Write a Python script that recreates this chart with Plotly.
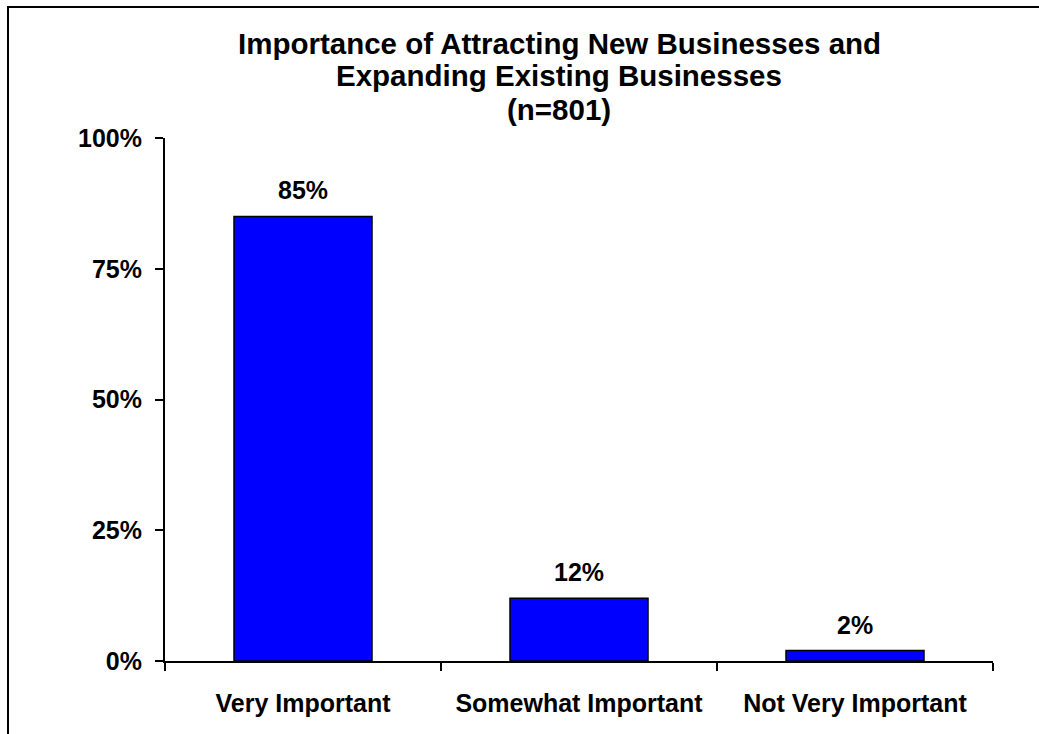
import plotly.graph_objects as go

categories = ["Very Important", "Somewhat Important", "Not Very Important"]
values = [85, 12, 2]
y_ticks = [0, 25, 50, 75, 100]
title_lines = ["Importance of Attracting New Businesses and",
               "Expanding Existing Businesses",
               "(n=801)"]

W, H = 1039, 734
L, R, T, B = 165, 46, 138, 73
FONT = "Liberation Sans, Arial, sans-serif"

fig = go.Figure()
fig.add_trace(go.Bar(
    x=categories, y=values, width=0.5,
    marker=dict(color="#0000FF", line=dict(color="black", width=1.5)),
    hoverinfo="skip",
))

annotations = []
for c, v in zip(categories, values):
    annotations.append(dict(x=c, y=v, xref="x", yref="y", text=f"<b>{v}%</b>",
                            showarrow=False, yanchor="middle", yshift=26,
                            font=dict(family=FONT, size=25, color="black")))

ph = H - T - B
pw = W - L - R
def py(pix):
    return (H - B - pix) / ph
def px(pix):
    return (pix - L) / pw

for line, yc in zip(title_lines, [43, 76, 109]):
    annotations.append(dict(x=px(559), y=py(yc), xref="paper", yref="paper",
                            text=f"<b>{line}</b>", showarrow=False,
                            xanchor="center", yanchor="middle",
                            font=dict(family=FONT, size=29.5, color="black")))

# outer frame: only top and left edges are visible in the picture
fig.add_shape(type="line", xref="paper", yref="paper",
              x0=px(7), x1=px(1045), y0=py(7), y1=py(7),
              line=dict(color="black", width=2), layer="above")
fig.add_shape(type="line", xref="paper", yref="paper",
              x0=px(8), x1=px(8), y0=py(6), y1=py(740),
              line=dict(color="black", width=2), layer="above")

fig.update_layout(
    width=W, height=H,
    margin=dict(l=L, r=R, t=T, b=B, pad=0),
    paper_bgcolor="white", plot_bgcolor="white",
    showlegend=False,
    annotations=annotations,
    font=dict(family=FONT, color="black"),
    bargap=0.5,
)
fig.update_xaxes(
    showline=True, linecolor="black", linewidth=2,
    ticks="outside", tickson="boundaries", ticklen=8, tickwidth=2, tickcolor="black",
    tickfont=dict(family=FONT, size=25, color="black", weight="bold"),
    ticklabelstandoff=19,
    showgrid=False, zeroline=False, fixedrange=True,
)
fig.update_yaxes(
    range=[0, 100], tickvals=y_ticks, ticktext=[f"{t}%" for t in y_ticks],
    showline=True, linecolor="black", linewidth=2,
    ticks="outside", ticklen=8, tickwidth=2, tickcolor="black",
    tickfont=dict(family=FONT, size=25, color="black", weight="bold"),
    ticklabelstandoff=8,
    showgrid=False, zeroline=False, fixedrange=True,
)

fig.write_html("out.html", config={"displayModeBar": False},
               post_script="document.body.style.margin='0';document.body.style.overflow='hidden';")
